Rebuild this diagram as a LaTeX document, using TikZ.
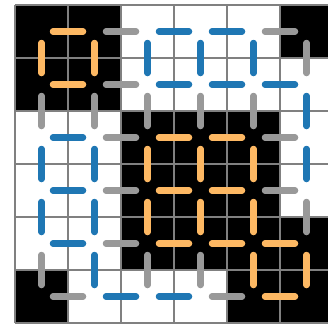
\documentclass[tikz,border=0pt]{standalone}
\definecolor{dorange}{RGB}{253,184,99}
\definecolor{dblue}{RGB}{31,119,180}
\definecolor{dgray}{RGB}{153,153,153}
\definecolor{gline}{RGB}{128,128,128}
\begin{document}
\begin{tikzpicture}[x=1pt,y=-1pt,
  gridline/.style={draw=gline,line width=2pt},
  bond/.style={line width=6.5pt,line cap=round,shorten >=11.5pt,shorten <=11.5pt}]
\useasboundingbox (0,0) rectangle (328,327);
\clip (0,0) rectangle (328,327);
\def\cells{{1,1,0,0,0,1, 1,1,0,0,0,0, 0,0,1,1,1,0, 0,0,1,1,1,0, 0,0,1,1,1,1, 1,0,0,0,1,1}}
\foreach \r in {0,...,5}{\foreach \c in {0,...,5}{
  \pgfmathtruncatemacro\v{\cells[\r*6+\c]}
  \coordinate (c-\r-\c) at (41.5+53*\c, 31.5+53*\r);
  \ifnum\v=1 \fill[black] (15+53*\c,5+53*\r) rectangle ++(53,53);\fi
}}
\foreach \k in {0,...,6}{
  \draw[gridline] (15+53*\k,5) -- (15+53*\k,323);
  \draw[gridline] (15,5+53*\k) -- (333,5+53*\k);
}
% horizontal bonds
\foreach \r in {0,...,5}{\foreach \c in {0,...,4}{
  \pgfmathtruncatemacro\cn{\c+1}
  \pgfmathtruncatemacro\s{\cells[\r*6+\c]+\cells[\r*6+\c+1]}
  \ifcase\s \def\bc{dblue}\or \def\bc{dgray}\else \def\bc{dorange}\fi
  \draw[bond,draw=\bc] (c-\r-\c) -- (c-\r-\cn);
}}
% vertical bonds
\foreach \r in {0,...,4}{\foreach \c in {0,...,5}{
  \pgfmathtruncatemacro\rn{\r+1}
  \pgfmathtruncatemacro\s{\cells[\r*6+\c]+\cells[\r*6+\c+6]}
  \ifcase\s \def\bc{dblue}\or \def\bc{dgray}\else \def\bc{dorange}\fi
  \draw[bond,draw=\bc] (c-\r-\c) -- (c-\rn-\c);
}}
\end{tikzpicture}
\end{document}
